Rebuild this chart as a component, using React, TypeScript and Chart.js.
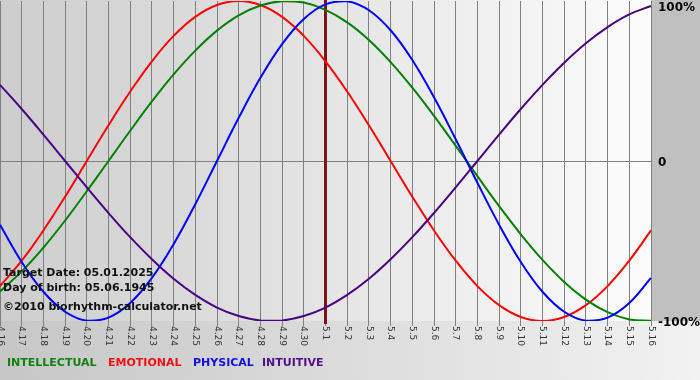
import React, { useEffect, useRef } from "react";
import { Chart, registerables } from "chart.js";

Chart.register(...registerables);

const dayLabels = [
  "4.16", "4.17", "4.18", "4.19", "4.20", "4.21", "4.22", "4.23", "4.24", "4.25",
  "4.26", "4.27", "4.28", "4.29", "4.30", "5.1", "5.2", "5.3", "5.4", "5.5",
  "5.6", "5.7", "5.8", "5.9", "5.10", "5.11", "5.12", "5.13", "5.14", "5.15", "5.16",
];

const intellectual = [
  -81.5, -69.0, -54.1, -37.2, -18.9, 0, 18.9, 37.2, 54.1, 69.0, 81.5, 91.0, 97.2, 99.9, 99.0,
  94.5, 86.6, 75.6, 61.8, 45.8, 28.2, 9.5, -9.5, -28.2, -45.8, -61.8, -75.6, -86.6, -94.5, -99.0, -99.9,
];
const emotional = [
  -78.2, -62.3, -43.4, -22.3, 0, 22.3, 43.4, 62.3, 78.2, 90.1, 97.5, 100, 97.5, 90.1, 78.2,
  62.3, 43.4, 22.3, 0, -22.3, -43.4, -62.3, -78.2, -90.1, -97.5, -100, -97.5, -90.1, -78.2, -62.3, -43.4,
];
const physical = [
  -39.8, -63.1, -81.7, -94.2, -99.8, -97.9, -88.8, -73.1, -52.0, -27.0, 0, 27.0, 52.0, 73.1, 88.8,
  97.9, 99.8, 94.2, 81.7, 63.1, 39.8, 13.6, -13.6, -39.8, -63.1, -81.7, -94.2, -99.8, -97.9, -88.8, -73.1,
];
const intuitive = [
  47.6, 32.5, 16.5, 0, -16.5, -32.5, -47.6, -61.4, -73.6, -83.7, -91.6, -96.9, -99.7, -99.7, -96.9,
  -91.6, -83.7, -73.6, -61.4, -47.6, -32.5, -16.5, 0, 16.5, 32.5, 47.6, 61.4, 73.6, 83.7, 91.6, 96.9,
];

const targetIndex = 15;
const yAxisLabels = [
  { value: 100, text: "100%" },
  { value: 0, text: "0" },
  { value: -100, text: "-100%" },
];
const infoLines = ["Target Date: 05.01.2025", "Day of birth: 05.06.1945", "©2010 biorhythm-calculator.net"];
const legendItems = [
  { text: "INTELLECTUAL", color: "#108010" },
  { text: "EMOTIONAL", color: "#ee1111" },
  { text: "PHYSICAL", color: "#1010dd" },
  { text: "INTUITIVE", color: "#50108a" },
];

const COLORS = {
  intellectual: "#008000",
  emotional: "#ff0000",
  physical: "#0000ff",
  intuitive: "#4b0082",
};

const decorPlugin = {
  id: "decor",
  beforeDraw(chart: any) {
    const { ctx, chartArea, width, height } = chart;
    ctx.save();
    ctx.fillStyle = "#c0c0c0";
    ctx.fillRect(0, 0, width, height);
    // bottom strip
    const gb = ctx.createLinearGradient(0, 0, width, 0);
    gb.addColorStop(0, "#c6c6c6");
    gb.addColorStop(1, "#f2f2f2");
    ctx.fillStyle = gb;
    ctx.fillRect(0, chartArea.bottom, width, height - chartArea.bottom);
    // plot area
    const gp = ctx.createLinearGradient(chartArea.left, 0, chartArea.right, 0);
    gp.addColorStop(0, "#cdcdcd");
    gp.addColorStop(1, "#fcfcfc");
    ctx.fillStyle = gp;
    ctx.fillRect(chartArea.left, chartArea.top - 1, chartArea.right - chartArea.left, chartArea.bottom - chartArea.top + 1);
    ctx.restore();
  },
  beforeDatasetsDraw(chart: any) {
    const { ctx, chartArea, scales } = chart;
    const x = scales.x.getPixelForValue(targetIndex);
    ctx.save();
    ctx.strokeStyle = "#7a1616";
    ctx.lineWidth = 3;
    ctx.beginPath();
    ctx.moveTo(x, chartArea.top - 1);
    ctx.lineTo(x, chartArea.bottom + 3);
    ctx.stroke();
    ctx.restore();
  },
  afterDraw(chart: any) {
    const { ctx, chartArea, scales } = chart;
    ctx.save();
    // x tick labels, rotated clockwise
    ctx.fillStyle = "#333333";
    ctx.font = "9px 'DejaVu Sans'";
    ctx.textAlign = "left";
    ctx.textBaseline = "middle";
    dayLabels.forEach((lab, i) => {
      const x = scales.x.getPixelForValue(i);
      ctx.save();
      ctx.translate(x, chartArea.bottom + 5);
      ctx.rotate(Math.PI / 2);
      ctx.fillText(lab, 0, 0);
      ctx.restore();
    });
    // right axis labels
    ctx.fillStyle = "#000000";
    ctx.font = "bold 12px 'DejaVu Sans'";
    ctx.textBaseline = "alphabetic";
    yAxisLabels.forEach((l) => {
      let y = scales.y.getPixelForValue(l.value) + 4.5;
      if (y < 11) y = 11;
      ctx.fillText(l.text, chartArea.right + 7, y);
    });
    // info text
    ctx.font = "bold 11px 'DejaVu Sans'";
    ctx.fillStyle = "#111111";
    const bases = [276, 291, 310];
    infoLines.forEach((t, i) => ctx.fillText(t, 3, bases[i]));
    // legend
    const xs = [7, 108, 193, 262];
    legendItems.forEach((it, i) => {
      ctx.fillStyle = it.color;
      ctx.fillText(it.text, xs[i], 366);
    });
    ctx.restore();
  },
};

export default function App() {
  const canvasRef = useRef<HTMLCanvasElement | null>(null);

  useEffect(() => {
    if (!canvasRef.current) return;
    const mk = (label: string, data: number[], color: string) => ({
      label,
      data,
      borderColor: color,
      backgroundColor: color,
      borderWidth: 2,
      pointRadius: 0,
      tension: 0.4,
      fill: false,
    });
    const chart = new Chart(canvasRef.current, {
      type: "line",
      data: {
        labels: dayLabels,
        datasets: [
          mk("INTUITIVE", intuitive, COLORS.intuitive),
          mk("PHYSICAL", physical, COLORS.physical),
          mk("INTELLECTUAL", intellectual, COLORS.intellectual),
          mk("EMOTIONAL", emotional, COLORS.emotional),
        ],
      },
      options: {
        responsive: false,
        animation: false,
        layout: { padding: { left: 0, right: 49, top: 1, bottom: 54 } },
        plugins: { legend: { display: false }, tooltip: { enabled: false } },
        scales: {
          x: {
            type: "category",
            offset: false,
            border: { display: false },
            grid: { color: "#808080", lineWidth: 1, tickLength: 5, drawTicks: true },
            ticks: { display: false },
          },
          y: {
            position: "right",
            min: -100,
            max: 100,
            border: { display: false },
            ticks: { display: false, stepSize: 100 },
            grid: {
              drawTicks: false,
              color: (c: any) => (c.tick && c.tick.value === 0 ? "#808080" : "rgba(0,0,0,0)"),
            },
          },
        },
      },
      plugins: [decorPlugin],
    });
    return () => chart.destroy();
  }, []);

  return (
    <div style={{ position: "fixed", left: 0, top: 0, width: 700, height: 380 }}>
      <canvas ref={canvasRef} width={700} height={380} style={{ display: "block" }} />
    </div>
  );
}
